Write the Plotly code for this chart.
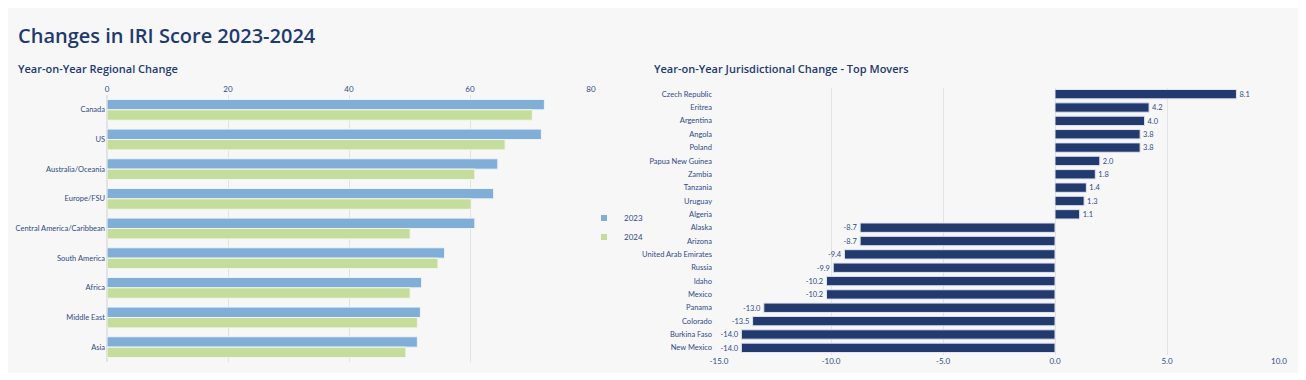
import plotly.graph_objects as go

# page body has an 8px margin; the figure is sized to fit the window exactly
OFF = 8
W, H = 1306 - OFF, 380 - OFF

# ---- data: regional change ----
regions = ["Canada", "US", "Australia/Oceania", "Europe/FSU", "Central America/Caribbean",
           "South America", "Africa", "Middle East", "Asia"]
score_2023 = [72.3, 71.8, 64.6, 63.9, 60.8, 55.8, 52.0, 51.8, 51.3]
score_2024 = [70.3, 65.8, 60.8, 60.2, 50.1, 54.7, 50.1, 51.3, 49.4]
region_ticks = [0, 20, 40, 60, 80]

# ---- data: top movers ----
jurisdictions = ["Czech Republic", "Eritrea", "Argentina", "Angola", "Poland", "Papua New Guinea",
                 "Zambia", "Tanzania", "Uruguay", "Algeria", "Alaska", "Arizona",
                 "United Arab Emirates", "Russia", "Idaho", "Mexico", "Panama", "Colorado",
                 "Burkina Faso", "New Mexico"]
changes = [8.1, 4.2, 4.0, 3.8, 3.8, 2.0, 1.8, 1.4, 1.3, 1.1, -8.7, -8.7, -9.4, -9.9,
           -10.2, -10.2, -13.0, -13.5, -14.0, -14.0]
change_ticks = [-15, -10, -5, 0, 5, 10]
change_tick_labels = ["-15.0", "-10.0", "-5.0", "0.0", "5.0", "10.0"]

NAVY = "#233a6e"
TICK = "#2f4b84"
GRID = "#e2e2e2"
PANEL = "#f7f7f7"
C23 = "#80aed6"
C24 = "#c4dc9c"
FONT = "Open Sans"
SMALL = "Lato"
TF = dict(size=8, color=TICK, family=SMALL)      # numbers, legend
YF = dict(size=7.5, color=TICK, family=SMALL)    # category labels

def px(x):
    return (x - OFF) / W

def py(y):
    return 1 - (y - OFF) / H

fig = go.Figure()

fig.add_trace(go.Bar(y=regions, x=score_2023, name="2023", orientation="h", showlegend=False,
                     marker=dict(color=C23, line=dict(color="#eef3f8", width=1)),
                     xaxis="x", yaxis="y"))
fig.add_trace(go.Bar(y=regions, x=score_2024, name="2024", orientation="h", showlegend=False,
                     marker=dict(color=C24, line=dict(color="#f2f7ea", width=1)),
                     xaxis="x", yaxis="y"))

# legend entries (small square swatches)
fig.add_trace(go.Scatter(x=[None], y=[None], mode="markers", name="2023",
                         marker=dict(symbol="square", size=6, color=C23), xaxis="x", yaxis="y"))
fig.add_trace(go.Scatter(x=[None], y=[None], mode="markers", name="2024",
                         marker=dict(symbol="square", size=6, color=C24), xaxis="x", yaxis="y"))

fig.add_trace(go.Bar(y=jurisdictions, x=changes, orientation="h", showlegend=False,
                     marker=dict(color=NAVY, line=dict(color="#dfe4ee", width=1)),
                     text=[f"{v:.1f}" for v in changes], textposition="outside",
                     textfont=TF, cliponaxis=False, xaxis="x2", yaxis="y2"))

fig.update_layout(
    width=W, height=H,
    margin=dict(l=0, r=0, t=0, b=0, autoexpand=False),
    paper_bgcolor="white",
    plot_bgcolor=PANEL,
    font=dict(family=SMALL, color=TICK, size=8),
    barmode="group",
    bargap=0.3, bargroupgap=0.0,
    showlegend=True,
    legend=dict(x=px(584), y=py(227.5), xanchor="left", yanchor="middle",
                bgcolor="rgba(0,0,0,0)", font=TF, itemwidth=30, tracegroupgap=0),
    xaxis=dict(domain=[px(107), px(591)], range=[0, 80], side="top", anchor="y",
               tickvals=region_ticks, showgrid=True, gridcolor=GRID, zeroline=True,
               zerolinecolor=GRID, automargin=False, tickfont=TF),
    yaxis=dict(domain=[py(362), py(95)], autorange="reversed", anchor="x",
               showgrid=False, ticks="", automargin=False, tickfont=YF, ticklabelstandoff=1),
    xaxis2=dict(domain=[px(719), px(1279)], range=[-15, 10], anchor="y2",
                tickvals=change_ticks, ticktext=change_tick_labels,
                showgrid=True, gridcolor=GRID, zeroline=False, automargin=False, tickfont=TF),
    yaxis2=dict(domain=[py(354.5), py(87.5)], autorange="reversed", anchor="x2",
                showgrid=False, ticks="", automargin=False, tickfont=YF, ticklabelstandoff=6),
    shapes=[dict(type="rect", xref="paper", yref="paper", layer="below",
                 x0=0, x1=px(1299), y0=py(373), y1=1,
                 fillcolor=PANEL, line=dict(width=0))],
    annotations=[
        dict(text="Changes in IRI Score 2023-2024", x=px(16), y=py(35), xref="paper", yref="paper",
             xanchor="left", yanchor="middle", showarrow=False,
             font=dict(family=FONT, size=20, color="#1f3a6e", weight=600)),
        dict(text="Year-on-Year Regional Change", x=px(16), y=py(69), xref="paper", yref="paper",
             xanchor="left", yanchor="middle", showarrow=False,
             font=dict(family=FONT, size=11, color="#1f3a6e", weight=600)),
        dict(text="Year-on-Year Jurisdictional Change - Top Movers", x=px(652), y=py(69),
             xref="paper", yref="paper", xanchor="left", yanchor="middle", showarrow=False,
             font=dict(family=FONT, size=11, color="#1f3a6e", weight=600)),
    ],
)

fig.write_html("out.html")
